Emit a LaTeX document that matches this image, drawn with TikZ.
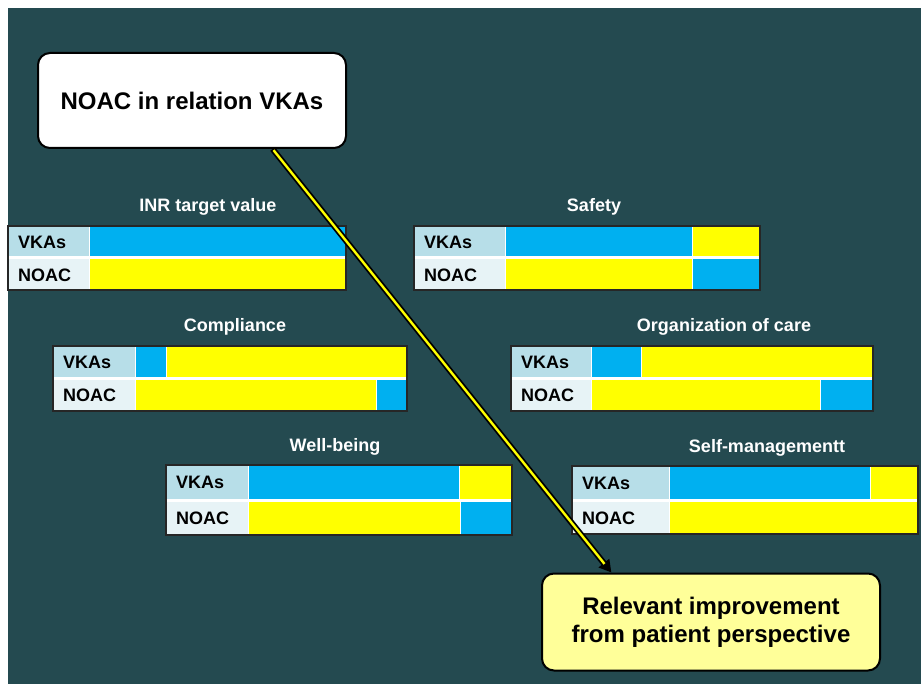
\documentclass[tikz,border=0pt]{standalone}
\usepackage{fontspec}
\setmainfont{Liberation Sans}
\usepackage{tikz}
\usetikzlibrary{positioning,calc,arrows.meta}
\definecolor{slate}{RGB}{36,74,80}
\definecolor{vkablue}{RGB}{0,176,240}
\definecolor{vkayellow}{RGB}{255,255,0}
\definecolor{vkacell}{RGB}{183,222,232}
\definecolor{noaccell}{RGB}{231,243,246}
\definecolor{paleyellow}{RGB}{255,255,153}
\tikzstyle{callout} = [draw=black, line width=2pt, rounded corners=12pt, fill=white, align=center, font=\bfseries\fontsize{24}{28}\selectfont]
\tikzstyle{heading} = [text=white, inner sep=0pt, font=\bfseries\fontsize{18}{21}\selectfont]
\tikzstyle{rowlabel} = [anchor=west, inner sep=0pt, font=\bfseries\fontsize{18}{21}\selectfont]
\tikzstyle{frame} = [draw=black!85, line width=1.5pt]
\tikzstyle{pointer} = [-{Triangle[length=12pt,width=13pt]}, line width=6pt, black]
\tikzstyle{core} = [line width=2.4pt, vkayellow, shorten >=11pt, shorten <=1.5pt]
% #1 name, #2 left, #3 top, #4 end of labels, #5 right, #6 bottom, #7 VKAs split, #8 NOAC split
\newcommand{\comptable}[8]{%
	\fill[white] (#2,#3) rectangle (#5,#6);
	\fill[vkacell] (#2,#3) rectangle ({#4},{(#3+#6)/2-1.5});
	\fill[noaccell] (#2,{(#3+#6)/2+1.5}) rectangle (#4,#6);
	\fill[vkablue] ({#4+1},#3) rectangle ({#7-0.5},{(#3+#6)/2-1.5});
	\fill[vkayellow] ({#7+0.5},#3) rectangle (#5,{(#3+#6)/2-1.5});
	\fill[vkayellow] ({#4+1},{(#3+#6)/2+1.5}) rectangle ({#8-0.5},#6);
	\fill[vkablue] ({#8+0.5},{(#3+#6)/2+1.5}) rectangle (#5,#6);
	\draw[frame] (#2,#3) rectangle (#5,#6);
	\node[rowlabel] (#1vka) at ({#2+10},{(3*#3+#6)/4}) {VKAs};
	\node[rowlabel] (#1noac) at ({#2+10},{(#3+3*#6)/4+1}) {NOAC};
}

\begin{document}
\begin{tikzpicture}[x=1pt, y=-1pt]
	\useasboundingbox (0,0) rectangle (921,684);
	\fill[slate] (8,8) rectangle (921,684);
	% the six comparisons
	\node (inrtitle) [heading] at (208,207) {INR target value};
	\comptable{inr}{8}{226}{89}{346}{290}{346}{346}
	\node (safetytitle) [heading] at (594,207) {Safety};
	\comptable{safety}{414}{226}{505}{760}{290}{692}{692}
	\node (compltitle) [heading] at (235,327) {Compliance};
	\comptable{compl}{53}{346}{135}{407}{411}{166}{376}
	\node (caretitle) [heading] at (724,327) {Organization of care};
	\comptable{care}{511}{346}{591}{873}{411}{641}{820}
	\node (welltitle) [heading] at (335,447) {Well-being};
	\comptable{well}{166}{465}{248}{512}{535}{459}{460}
	\node (selftitle) [heading] at (767,448) {Self-managementt};
	\comptable{self}{572}{466}{669}{918}{534}{870}{918}
	% callouts
	\node (question) [callout, minimum width=308pt, minimum height=95pt] at (192,100.5) {NOAC in relation VKAs};
	\node (answer) [callout, fill=paleyellow, minimum width=338pt, minimum height=97pt] at (711,622) {Relevant improvement\\from patient perspective};
	\coordinate (qfoot) at ($(question.south west)!0.76!(question.south east)$);
	\coordinate (atop) at ($(answer.north west)!0.207!(answer.north east)$);
	\draw [pointer] (qfoot) -- (atop);
	\draw [core] (qfoot) -- (atop);
\end{tikzpicture}
\end{document}
